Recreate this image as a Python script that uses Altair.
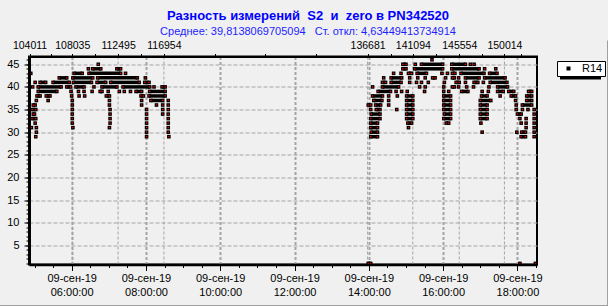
import altair as alt
import pandas as pd
from datetime import datetime, timezone

NB = "\u00a0"
# ---------------- texts ----------------
title_text = "Разность измерений" + NB + " S2" + NB + " и" + NB + " zero в PN342520"
subtitle_text = "Среднее: 39,8138069705094" + NB + NB + " Ст. откл: 4,63449413734914"
series_name = "R14"
month_label = "сен"

# ---------------- axes data ----------------
x_start, x_end = "04:51:06", "18:31:36"
bottom_major_ticks = ["06:00", "08:00", "10:00", "12:00", "14:00", "16:00", "18:00"]
bottom_minor_ticks = ["05:00", "05:30", "06:00", "06:30", "07:00", "07:30", "08:00", "08:30",
                      "09:00", "09:30", "10:00", "10:30", "11:00", "11:30", "12:00", "12:30",
                      "13:00", "13:30", "14:00", "14:30", "15:00", "15:30", "16:00", "16:30",
                      "17:00", "17:30", "18:00", "18:30"]
top_label_times = ["04:52", "06:01", "07:15", "08:29", "13:58", "15:11", "16:26", "17:39"]
top_labels = ["104011", "108035", "112495", "116954", "136681", "141094", "145554", "150014"]
top_minor_times = ["05:27", "06:38", "07:52", "09:51", "11:12", "12:34", "14:35", "15:49", "17:02", "18:05"]
y_domain = [0.76, 46.72]
y_major_ticks = [5, 10, 15, 20, 25, 30, 35, 40, 45]
y_minor_ticks = list(range(1, 47))

# ---------------- series R14: runs of measurements per value level ----------------
level_46 = ["15:42"]
level_45 = ["06:43", "14:55-15:00", "15:15", "15:25-15:59", "16:14-16:36", "16:44", "16:50"]
level_44 = ["06:27", "06:34-06:47", "07:13-07:19", "14:55-15:00", "15:14-15:59", "16:14-16:58",
            "17:07", "17:25"]
level_43 = ["04:54", "06:04-06:17", "06:28-07:19", "07:27", "14:40", "14:52", "15:04-15:09",
            "15:18-15:33", "15:58", "16:07", "16:15-16:19", "16:29-17:06", "17:15-17:27"]
level_42 = ["05:40-05:52", "06:02-06:34", "06:42-07:46", "07:59", "14:24", "14:36-14:53", "15:06",
            "15:19", "15:31", "15:43-15:47", "16:04", "16:15-16:18", "16:25", "16:36-16:58",
            "17:07-17:40"]
level_41 = ["05:01", "05:09-05:18", "05:30-05:56", "06:03-06:32", "06:41-06:55", "07:03-07:49",
            "07:58-08:05", "14:22-14:27", "14:36-14:52", "15:06", "15:17", "15:25", "15:36",
            "16:02", "16:21-16:26", "16:36", "16:50-16:56", "17:05", "17:16-17:43"]
level_40 = ["04:57", "05:06-05:43", "05:52-05:58", "06:07-06:20", "06:36", "06:49-07:13",
            "07:23-08:06", "08:13", "08:26-08:31", "14:06", "14:22-14:48", "15:22", "15:31",
            "16:01", "16:15-16:18", "16:25", "16:38", "16:49", "17:14", "17:28-17:44"]
level_39 = ["05:06-05:36", "05:59", "06:11", "06:20", "06:33", "06:46-06:49", "06:59", "07:17",
            "07:25", "07:35", "07:44-07:53", "08:06-08:31", "14:15-14:35", "14:44", "14:53",
            "15:02", "15:30", "16:01", "16:09", "16:30-16:40", "17:03", "17:13", "17:28-17:37",
            "17:46-17:54", "18:18-18:23"]
level_38 = ["05:04-05:09", "05:19-05:25", "06:00", "06:12", "06:21", "06:56-07:01", "07:52-07:56",
            "08:05-08:31", "14:06-14:22", "14:32", "14:46", "15:01-15:11", "16:01-16:12",
            "17:02-17:11", "17:32", "17:50-17:57", "18:15-18:23"]
level_37 = ["05:03", "05:22", "06:01", "07:01", "07:53", "08:08-08:27", "08:36", "14:08-14:21",
            "14:32", "15:01-15:11", "16:01-16:12", "17:00-17:17", "17:57", "18:15-18:23"]
level_36 = ["04:58-05:01", "06:01", "07:01", "07:53", "08:17", "08:27", "08:36", "13:59-14:03",
            "14:11-14:19", "14:32", "15:01-15:11", "16:01-16:12", "17:00-17:11", "17:58",
            "18:08-18:23"]
level_35 = ["04:56-05:02", "06:01", "07:02", "08:01", "08:27", "08:36", "14:03", "14:12-14:18",
            "14:45", "15:01-15:11", "16:01-16:12", "17:00-17:11", "17:58", "18:08", "18:17", "18:27"]
level_34 = ["04:58-05:00", "06:01", "07:02", "08:01", "08:27", "08:36", "14:04-14:18",
            "15:01-15:11", "16:02-16:12", "17:00-17:11", "18:00-18:06", "18:27"]
level_33 = ["04:56-05:02", "06:01", "07:02", "08:01", "08:36", "14:03-14:18", "15:01-15:11",
            "16:01-16:12", "17:00-17:11", "18:04", "18:14", "18:27"]
level_32 = ["05:01", "06:01", "07:02", "08:01", "08:36", "14:03-14:14", "15:03-15:09",
            "16:05-16:09", "17:01", "18:06", "18:14", "18:27"]
level_31 = ["04:55", "05:03", "06:02", "07:01", "08:01", "08:36", "14:03-14:14", "15:04",
            "18:14", "18:27"]
level_30 = ["05:03", "08:01", "08:36", "14:04-14:14", "17:03", "17:59", "18:07-18:13", "18:27"]
level_29 = ["05:02", "08:01", "08:37", "14:03-14:14", "18:06-18:13", "18:27"]
level_1 = ["13:59-14:03", "18:04", "18:29"]

runs_by_level = {46: level_46, 45: level_45, 44: level_44, 43: level_43, 42: level_42,
                 41: level_41, 40: level_40, 39: level_39, 38: level_38, 37: level_37,
                 36: level_36, 35: level_35, 34: level_34, 33: level_33, 32: level_32,
                 31: level_31, 30: level_30, 29: level_29, 1: level_1}

BASE = datetime(2019, 9, 9, tzinfo=timezone.utc).timestamp()


def ms(hhmm):
    parts = [int(p) for p in hhmm.split(":")]
    while len(parts) < 3:
        parts.append(0)
    return int((BASE + parts[0] * 3600 + parts[1] * 60 + parts[2]) * 1000)


runs_rows, ends_rows = [], []
for level, items in runs_by_level.items():
    for item in items:
        a, _, b = item.partition("-")
        b = b or a
        runs_rows.append({"level": level, "t0": ms(a), "t1": ms(b)})
        ends_rows.append({"level": level, "t": ms(a), "series": series_name})
        if b != a:
            ends_rows.append({"level": level, "t": ms(b), "series": series_name})
runs_df = pd.DataFrame(runs_rows)
ends_df = pd.DataFrame(ends_rows)
top_df = pd.DataFrame({"t": [ms(t) for t in top_label_times]})

FONT = "Liberation Sans"
x_scale = alt.Scale(type="utc", domain=[ms(x_start), ms(x_end)], nice=False)
y_scale = alt.Scale(domain=y_domain, nice=False, zero=False)

bottom_expr = ("[utcFormat(datum.value, '%d') + '-" + month_label + "-' + utcFormat(datum.value, '%y'), "
               "utcFormat(datum.value, '%H:%M:%S')]")
top_expr = " : ".join(f"abs(datum.value - {ms(t)}) < 1000 ? '{lab}'"
                      for t, lab in zip(top_label_times, top_labels)) + " : ''"

bottom_axis = alt.Axis(orient="bottom", values=[ms(t) for t in bottom_major_ticks], title=None,
                       grid=True, gridColor="#A4A4A4", gridDash=[3, 2], gridWidth=2,
                       domain=False, tickSize=6, tickColor="black", labelExpr=bottom_expr,
                       labelFont=FONT, labelFontSize=11, labelColor="black", labelPadding=2,
                       labelLineHeight=14, labelFlush=False, labelOverlap=False, zindex=0)
bottom_minor_axis = alt.Axis(orient="bottom", values=[ms(t) for t in bottom_minor_ticks], title=None,
                             grid=False, labels=False, tickSize=3, tickColor="black",
                             domain=True, domainColor="black", domainWidth=2.5, zindex=1)
top_axis = alt.Axis(orient="top", values=[ms(t) for t in top_label_times + top_minor_times],
                    title=None, grid=False, domain=True, domainColor="black", domainWidth=2,
                    tickSize=3, tickColor="black", labelExpr=top_expr, labelFont=FONT,
                    labelFontSize=10.5, labelColor="black", labelPadding=3, labelFlush=False,
                    labelOverlap=False, zindex=1)
left_axis = alt.Axis(orient="left", values=y_major_ticks, title=None, grid=True,
                     gridColor="#A4A4A4", gridDash=[4, 2], gridWidth=1, domain=False,
                     tickSize=5, tickColor="black", labelFont=FONT, labelFontSize=11,
                     labelColor="black", labelPadding=5, zindex=0)
left_minor_axis = alt.Axis(orient="left", values=y_minor_ticks, title=None, grid=False,
                           labels=False, tickSize=3, tickColor="black", domain=True,
                           domainColor="black", domainWidth=3, zindex=1)

top_grid = alt.Chart(top_df).mark_rule(color="#A4A4A4", strokeWidth=1, strokeDash=[3, 2]).encode(
    x=alt.X("t:T", scale=x_scale, axis=top_axis))

runs = alt.Chart(runs_df).mark_rule(color="black", strokeWidth=3.5).encode(
    x=alt.X("t0:T", scale=x_scale, axis=bottom_axis),
    x2="t1:T",
    y=alt.Y("level:Q", scale=y_scale, axis=left_axis))

squares = alt.Chart(ends_df).mark_square(size=13, opacity=1).encode(
    x=alt.X("t:T", scale=x_scale, axis=bottom_minor_axis),
    y=alt.Y("level:Q", scale=y_scale, axis=left_minor_axis),
    color=alt.Color("series:N", scale=alt.Scale(range=["#000000"]),
                    legend=alt.Legend(orient="none", legendX=528, legendY=4.5, title=None,
                                      fillColor="white", strokeColor="black", padding=2,
                                      symbolType="square", symbolSize=16, symbolOffset=4,
                                      labelOffset=8, labelFont=FONT, labelFontSize=11,
                                      labelColor="black")))

centers = alt.Chart(ends_df).mark_square(size=1.6, color="#FF0000", opacity=1).encode(
    x=alt.X("t:T", scale=x_scale, axis=None),
    y=alt.Y("level:Q", scale=y_scale, axis=None))

shadow = alt.Chart(alt.Data(values=[{}])).mark_rect(color="black").encode(
    x=alt.value(531), x2=alt.value(572), y=alt.value(7.5), y2=alt.value(23))

# panel bevel (bottom and right edges of the picture)
bevel_bottom = alt.Chart(alt.Data(values=[{}])).mark_rule(color="#A0A0A0", strokeWidth=1).encode(
    x=alt.value(-29), x2=alt.value(579), y=alt.value(249))
bevel_right = alt.Chart(alt.Data(values=[{}])).mark_rule(color="#A0A0A0", strokeWidth=1).encode(
    x=alt.value(578.5), y=alt.value(-16), y2=alt.value(249.5))

chart = alt.layer(top_grid, runs, squares, centers, shadow, bevel_bottom, bevel_right).resolve_axis(
    x="independent", y="independent"
).properties(
    width=508, height=208,
    title=alt.Title(title_text, subtitle=subtitle_text, anchor="middle", dx=25,
                    font=FONT, fontSize=13, fontWeight="bold", color="#0000FF",
                    subtitleFont=FONT, subtitleFontSize=11, subtitleColor="#1E1EFF",
                    subtitlePadding=3, offset=3),
    background="#F0F0F0",
    padding={"left": 29, "top": 56.5, "right": 71, "bottom": 41.5},
    autosize=alt.AutoSizeParams(type="none"),
).configure_view(stroke="black", strokeWidth=2)

chart.save("out.html", embed_options={"renderer": "svg", "actions": False})
